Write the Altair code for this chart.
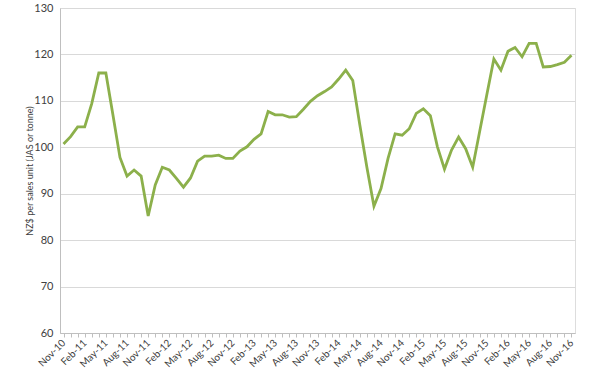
import altair as alt
import pandas as pd

months = [
    "Nov-10", "Dec-10", "Jan-11", "Feb-11", "Mar-11", "Apr-11", "May-11", "Jun-11", "Jul-11", "Aug-11", "Sep-11", "Oct-11",
    "Nov-11", "Dec-11", "Jan-12", "Feb-12", "Mar-12", "Apr-12", "May-12", "Jun-12", "Jul-12", "Aug-12", "Sep-12", "Oct-12",
    "Nov-12", "Dec-12", "Jan-13", "Feb-13", "Mar-13", "Apr-13", "May-13", "Jun-13", "Jul-13", "Aug-13", "Sep-13", "Oct-13",
    "Nov-13", "Dec-13", "Jan-14", "Feb-14", "Mar-14", "Apr-14", "May-14", "Jun-14", "Jul-14", "Aug-14", "Sep-14", "Oct-14",
    "Nov-14", "Dec-14", "Jan-15", "Feb-15", "Mar-15", "Apr-15", "May-15", "Jun-15", "Jul-15", "Aug-15", "Sep-15", "Oct-15",
    "Nov-15", "Dec-15", "Jan-16", "Feb-16", "Mar-16", "Apr-16", "May-16", "Jun-16", "Jul-16", "Aug-16", "Sep-16", "Oct-16",
    "Nov-16",
]

values = [
    100.7, 102.3, 104.4, 104.4, 109.4, 116.0, 116.0, 107.0, 97.8, 93.8, 95.1, 93.8,
    85.2, 91.9, 95.7, 95.1, 93.3, 91.4, 93.4, 97.0, 98.1, 98.1, 98.3, 97.6,
    97.6, 99.2, 100.1, 101.7, 102.9, 107.7, 107.0, 107.0, 106.5, 106.6, 108.2, 109.9,
    111.1, 112.0, 113.0, 114.7, 116.6, 114.4, 104.8, 95.7, 87.3, 91.1, 97.6, 102.9,
    102.6, 104.0, 107.3, 108.3, 106.8, 100.1, 95.3, 99.4, 102.2, 99.7, 95.7, 103.5,
    111.3, 119.0, 116.6, 120.7, 121.5, 119.5, 122.4, 122.4, 117.3, 117.4, 117.8, 118.3,
    119.8,
]

y_ticks = [60, 70, 80, 90, 100, 110, 120, 130]

df = pd.DataFrame({"i": list(range(len(months))), "month": months, "value": values})

label_array = "[" + ",".join(f"'{m}'" for m in months) + "]"
label_expr = f"datum.value % 3 == 0 ? {label_array}[datum.value] : ''"

FONT = "Lato"
TEXT = "#404040"
GRID = "#d9d9d9"

chart = (
    alt.Chart(df)
    .mark_line(color="#8cb04b", strokeWidth=2.8, strokeJoin="miter")
    .encode(
        x=alt.X(
            "i:Q",
            scale=alt.Scale(domain=[-0.5, len(months) - 0.5], nice=False, zero=False),
            axis=alt.Axis(
                values=list(range(len(months))),
                labelExpr=label_expr,
                labelAngle=-45,
                labelAlign="right",
                labelBaseline="middle",
                labelOverlap=False,
                labelFlush=False,
                labelBound=False,
                labelPadding=4,
                labelFont=FONT,
                labelFontSize=10,
                labelColor=TEXT,
                tickSize=4,
                tickColor="#bfbfbf",
                domainColor="#bfbfbf",
                grid=False,
                title=None,
            ),
        ),
        y=alt.Y(
            "value:Q",
            scale=alt.Scale(domain=[60, 130], nice=False, zero=False),
            axis=alt.Axis(
                values=y_ticks,
                ticks=False,
                grid=True,
                gridColor=GRID,
                gridWidth=1,
                domainColor="#bfbfbf",
                labelFont=FONT,
                labelFontSize=11,
                labelColor=TEXT,
                labelPadding=7,
                title="NZ$ per sales unit (JAS or tonne)",
                titleFont=FONT,
                titleFontSize=9,
                titleFontWeight="normal",
                titleColor=TEXT,
                titleX=-31,
                titleBaseline="middle",
            ),
        ),
    )
    .properties(
        width=515,
        height=325,
        autosize=alt.AutoSizeParams(type="none"),
        padding={"left": 60, "top": 8, "right": 25, "bottom": 40},
    )
    .configure_view(strokeWidth=0, stroke="transparent")
    .configure(background="white")
)

chart.save("out.html", embed_options={"renderer": "svg", "actions": False})
